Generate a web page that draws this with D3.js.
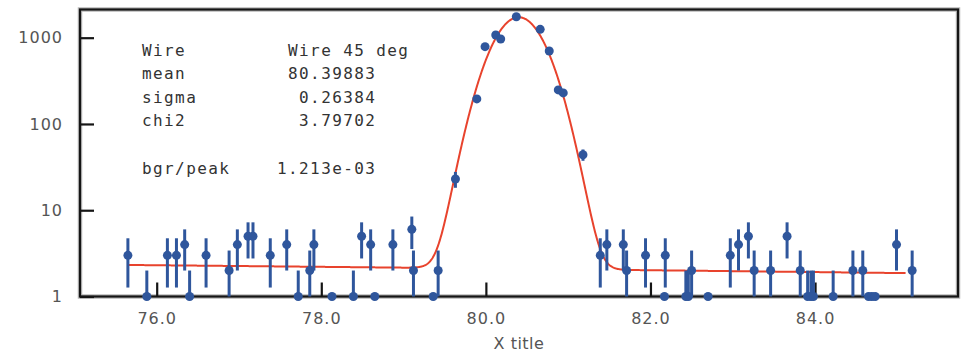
<!DOCTYPE html>
<html>
<head>
<meta charset="utf-8">
<script src="https://cdn.jsdelivr.net/npm/d3@7"></script>
<style>
  html, body { margin: 0; padding: 0; background: #fff; }
  svg { display: block; }
  .stat { font-family: "DejaVu Sans Mono", monospace; font-size: 16px; letter-spacing: 1.4px; fill: #333; white-space: pre; }
  .tick text { font-family: "DejaVu Sans", sans-serif; font-size: 16px; letter-spacing: 1px; fill: #555; }
</style>
</head>
<body>
<svg id="chart" width="963" height="352"></svg>
<script>
// Bin centres (x), counts and their statistical errors for the wire scan
const binX = [
  75.65, 75.88, 76.13, 76.24, 76.34, 76.40, 76.60, 76.88, 76.98, 77.11,
  77.17, 77.38, 77.58, 77.72, 77.86, 77.91, 78.13, 78.39, 78.49, 78.60,
  78.65, 78.87, 79.10, 79.12, 79.36, 79.42, 79.63, 79.89, 79.99, 80.12,
  80.18, 80.37, 80.66, 80.77, 80.88, 80.94, 81.18, 81.39, 81.47, 81.67,
  81.71, 81.94, 82.18, 82.17, 82.43, 82.46, 82.50, 82.70, 82.97, 83.07,
  83.19, 83.26, 83.46, 83.66, 83.82, 83.91, 83.95, 83.98, 84.22, 84.46,
  84.58, 84.65, 84.69, 84.73, 84.99, 85.18
];
const counts = [
  3, 1, 3, 3, 4, 1, 3, 2, 4, 5,
  5, 3, 4, 1, 2, 4, 0, 1, 5, 4,
  0, 4, 6, 2, 0, 2, 23, 195, 787, 1074,
  966, 1750, 1250, 701, 248, 229, 44, 3, 4, 4,
  2, 3, 3, 0, 1, 1, 2, 0, 3, 4,
  5, 2, 2, 5, 2, 1, 1, 1, 1, 2,
  2, 0, 0, 0, 4, 2
];
const countErr = [
  1.73, 1, 1.73, 1.73, 2, 1, 1.73, 1.41, 2, 2.24,
  2.24, 1.73, 2, 1, 1.41, 2, 0, 1, 2.24, 2,
  0, 2, 2.45, 1.41, 0, 1.41, 4.8, 14, 28, 33,
  31, 42, 35, 26, 16, 15, 6.6, 1.73, 2, 2,
  1.41, 1.73, 1.73, 0, 1, 1, 1.41, 0, 1.73, 2,
  2.24, 1.41, 1.41, 2.24, 1.41, 1, 1, 1, 1, 1.41,
  1.41, 0, 0, 0, 2, 1.41
];

// Fit result: gaussian peak on a linear background
const fitMean = 80.39883;
const fitSigma = 0.26384;
const fitChi2 = 3.79702;
const bgrPerPeak = 1.213e-03;
const bgrAtStart = 2.32;   // background level at the first bin
const bgrSlope = -0.048;   // background change per unit x
const fitRange = [75.65, 85.1];

const xTicks = [76, 78, 80, 82, 84];
const yTicks = [1, 10, 100, 1000];

const statLabels = ["Wire", "mean", "sigma", "chi2", "", "bgr/peak"];
const statValues = [" Wire 45 deg", " 80.39883", "  0.26384", "  3.79702", "", "1.213e-03"];

const svg = d3.select("#chart");
const plot = { left: 80, right: 958, top: 9.5, bottom: 296.5 };

const x = d3.scaleLinear().domain([75.068, 85.737]).range([plot.left, plot.right]);
const y = d3.scaleLog().domain([1, Math.pow(10, 3.3268)]).range([plot.bottom, plot.top]);

const bgr = v => bgrAtStart + bgrSlope * (v - fitRange[0]);
const peakAmp = bgr(fitMean) / bgrPerPeak;
const fitFn = v => peakAmp * Math.exp(-Math.pow(v - fitMean, 2) / (2 * fitSigma * fitSigma)) + bgr(v);

svg.append("rect").attr("width", 963).attr("height", 352).attr("fill", "#fff");

// Frame with a soft halo
const frame = svg.append("g");
frame.append("rect")
  .attr("x", plot.left).attr("y", plot.top)
  .attr("width", plot.right - plot.left).attr("height", plot.bottom - plot.top)
  .attr("fill", "none").attr("stroke", "#b8b8b8").attr("stroke-width", 4.5);
frame.append("rect")
  .attr("x", plot.left).attr("y", plot.top)
  .attr("width", plot.right - plot.left).attr("height", plot.bottom - plot.top)
  .attr("fill", "none").attr("stroke", "#151515").attr("stroke-width", 2.2);

// Axes: inward ticks
const yAxis = d3.axisLeft(y).tickValues(yTicks).tickSizeInner(-14).tickSizeOuter(0)
  .tickPadding(17).tickFormat(d3.format("d"));
const gy = svg.append("g").attr("transform", `translate(${plot.left},0)`).call(yAxis);
gy.select(".domain").remove();
gy.selectAll(".tick line").attr("stroke", "#151515").attr("stroke-width", 2.2);

const xAxis = d3.axisBottom(x).tickValues(xTicks).tickSizeInner(-14).tickSizeOuter(0)
  .tickPadding(16).tickFormat(d3.format(".1f"));
const gx = svg.append("g").attr("transform", `translate(0,${plot.bottom})`).call(xAxis);
gx.select(".domain").remove();
gx.selectAll(".tick line").attr("stroke", "#151515").attr("stroke-width", 2.2);

svg.append("text")
  .attr("x", (plot.left + plot.right) / 2).attr("y", 349)
  .attr("text-anchor", "middle")
  .style("font-family", "DejaVu Sans, sans-serif").style("font-size", "16px")
  .style("letter-spacing", "0.5px").attr("fill", "#555")
  .text("X title");

// Statistics box
const stats = svg.append("g");
statLabels.forEach((lab, i) => {
  const by = 55.5 + 23.6 * i;
  stats.append("text").attr("class", "stat").attr("x", 142).attr("y", by).text(lab);
  stats.append("text").attr("class", "stat").attr("x", 277).attr("y", by).text(statValues[i]);
});

// Fit curve
const curveX = d3.range(fitRange[0], fitRange[1] + 1e-9, 0.005);
svg.append("path")
  .datum(curveX)
  .attr("fill", "none").attr("stroke", "#e8432d").attr("stroke-width", 2)
  .attr("d", d3.line().x(d => x(d)).y(d => y(Math.max(1, fitFn(d)))));

// Data points with error bars
const blue = "#2f569c";
const pts = binX.map((bx, i) => ({ x: bx, n: counts[i], e: countErr[i] }));
const g = svg.append("g");
g.selectAll("line.err").data(pts.filter(d => d.e > 0)).join("line")
  .attr("class", "err")
  .attr("x1", d => x(d.x)).attr("x2", d => x(d.x))
  .attr("y1", d => y(Math.max(1, d.n - d.e)))
  .attr("y2", d => y(d.n + d.e))
  .attr("stroke", blue).attr("stroke-width", 3);
g.selectAll("circle").data(pts).join("circle")
  .attr("cx", d => x(d.x)).attr("cy", d => y(Math.max(1, d.n)))
  .attr("r", 4.5).attr("fill", blue);
</script>
</body>
</html>
